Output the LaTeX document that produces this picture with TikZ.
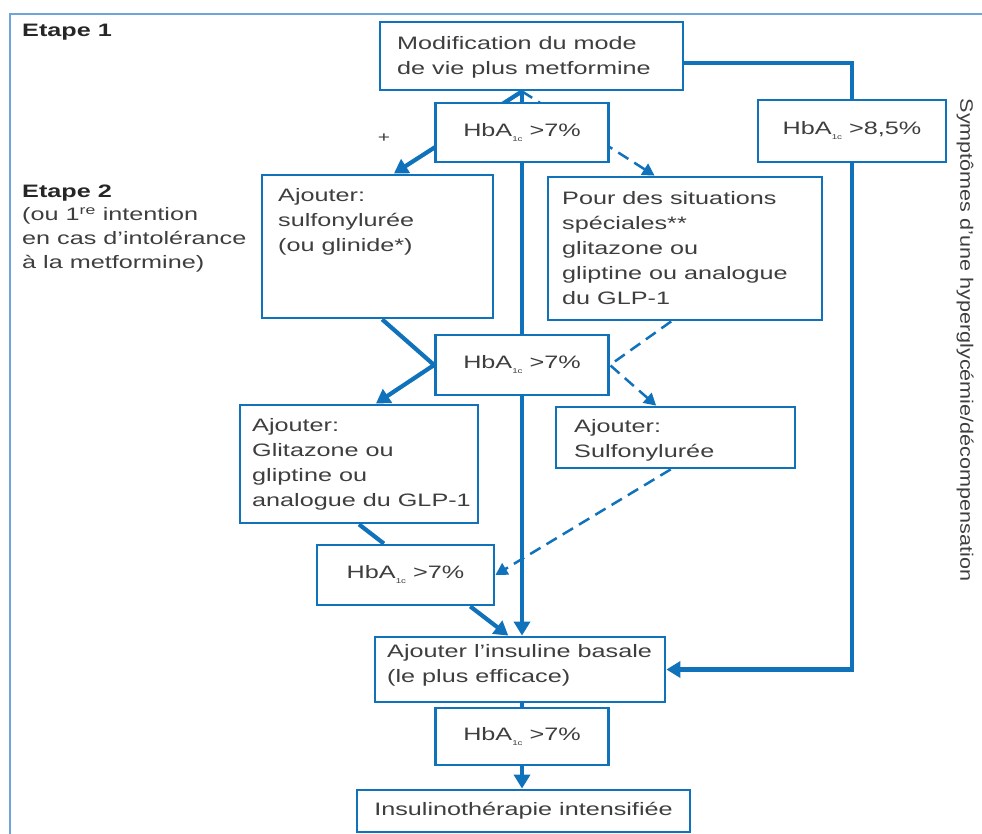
\documentclass[tikz,border=0pt]{standalone}
\usepackage{fontspec}
\setmainfont{Liberation Sans}[FakeStretch=1.4]
\newfontfamily\vfont{Liberation Sans}[FakeStretch=1.2]
\usetikzlibrary{arrows.meta,calc}
\definecolor{fblue}{RGB}{16,114,186}
\definecolor{frameblue}{RGB}{110,165,215}
\definecolor{tgray}{RGB}{62,62,62}
\newcommand{\hba}{HbA\raisebox{-5pt}{\fontsize{7}{7}\selectfont 1c}}
\pgfdeclarelayer{bg}\pgfsetlayers{bg,main}
\begin{document}
\begin{tikzpicture}[x=1pt,y=-1pt,
 box/.style={draw=fblue, line width=2.8pt, fill=white, inner sep=0pt},
 txt/.style={text=tgray, font=\fontsize{18}{25}\selectfont, align=left, inner sep=0pt, anchor=west},
 ctxt/.style={text=tgray, font=\fontsize{18}{25}\selectfont, inner sep=0pt},
 etape/.style={text=black!85, font=\fontsize{18}{24}\selectfont\bfseries, inner sep=0pt, anchor=west},
 thickline/.style={draw=fblue, line width=4.2pt},
 dashline/.style={draw=fblue, line width=2.5pt, dash pattern=on 12pt off 7pt},
 bigtip/.style={-{Triangle[length=14pt,width=16pt]}},
 smalltip/.style={-{Triangle[length=12pt,width=13pt]}},
]
\useasboundingbox (0,0) rectangle (982,834);
\draw[frameblue, line width=1.5pt] (10,834) -- (10,14) -- (982,14);

% boxes
\node[box, minimum width=303pt, minimum height=68pt] (mod) at (531.5,56) {};
\node[txt] (modt) at (397,57.5) {Modification du mode\\de vie plus metformine};

\node[box, minimum width=173pt, minimum height=59pt] (hb1) at (522,132.5) {};
\node[ctxt] (hb1t) at (hb1) {\hba\ >7\%};

\node[box, minimum width=188pt, minimum height=62pt] (hb85) at (852,131) {};
\node[ctxt] (hb85t) at (hb85) {\hba\ >8,5\%};

\node[box, minimum width=231pt, minimum height=143pt] (aj1) at (377.5,246.5) {};
\node[txt] (aj1t) at (278,222) {Ajouter:\\sulfonylurée\\(ou glinide*)};

\node[box, minimum width=274pt, minimum height=143pt] (pour) at (685,248.5) {};
\node[txt] (pourt) at (562,248.5) {Pour des situations\\spéciales**\\glitazone ou\\gliptine ou analogue\\du GLP-1};

\node[box, minimum width=173pt, minimum height=60pt] (hb2) at (522,365) {};
\node[ctxt] (hb2t) at (hb2) {\hba\ >7\%};

\node[box, minimum width=238pt, minimum height=118pt] (aj2) at (359,464) {};
\node[txt] (aj2t) at (252,464.5) {Ajouter:\\Glitazone ou\\gliptine ou\\analogue du GLP-1};

\node[box, minimum width=239pt, minimum height=61pt] (aj3) at (675.5,437.5) {};
\node[txt] (aj3t) at (574,440) {Ajouter:\\Sulfonylurée};

\node[box, minimum width=177pt, minimum height=60pt] (hb3) at (405.5,575) {};
\node[ctxt] (hb3t) at (hb3) {\hba\ >7\%};

\node[box, minimum width=290pt, minimum height=65pt] (ins) at (520,669.5) {};
\node[txt] (inst) at (387,665.5) {Ajouter l’insuline basale\\(le plus efficace)};

\node[box, minimum width=173pt, minimum height=57pt] (hb4) at (522,736.5) {};
\node[ctxt] (hb4t) at (hb4) {\hba\ >7\%};

\node[box, minimum width=333pt, minimum height=42pt] (final) at (523.5,811) {};
\node[ctxt] (finalt) at (final) {Insulinothérapie intensifiée};

% labels
\node[etape] (e1) at (22,32) {Etape 1};
\node[etape] (e2) at (22,193) {Etape 2};
\node[txt, font=\fontsize{18}{24}\selectfont] (e2t) at (22,240) {(ou 1\textsuperscript{re} intention\\en cas d’intolérance\\à la metformine)};
\node[ctxt, font=\fontsize{15}{15}\selectfont] (plus) at (384,138) {+};
\node[text=tgray, font=\vfont\fontsize{18}{20}\selectfont, rotate=-90, inner sep=0pt] (sym) at (965,340) {Symptômes d’une hyperglycémie/décompensation};

% connectors
\begin{pgfonlayer}{bg}
\coordinate (top) at (mod.south -| hb1.center);
\draw[thickline, bigtip] (top) -- (ins.north -| hb1.center);
\draw[thickline, bigtip] (top) -- ($(aj1.north west)!0.57!(aj1.north east)$);
\draw[dashline, smalltip] (top) -- ($(pour.north west)!0.39!(pour.north east)$);
\draw[thickline, bigtip] ($(aj1.south west)!0.52!(aj1.south east)$) -- (hb2.west) -- ($(aj2.north west)!0.57!(aj2.north east)$);
\draw[dashline, smalltip] ($(pour.south west)!0.45!(pour.south east)$) -- (hb2.east) -- ($(aj3.north west)!0.42!(aj3.north east)$);
\draw[thickline] ($(aj2.south west)!0.5!(aj2.south east)$) -- ($(hb3.north west)!0.38!(hb3.north east)$);
\draw[dashline, smalltip] ($(aj3.south west)!0.48!(aj3.south east)$) -- (hb3.east);
\draw[thickline, bigtip] ($(hb3.south west)!0.86!(hb3.south east)$) -- ($(ins.north west)!0.46!(ins.north east)$);
\draw[thickline] ($(mod.north east)!0.6!(mod.south east)$) -| (hb85.north);
\draw[thickline, bigtip] (hb85.south) |- (ins.east);
\draw[thickline] (ins.south -| hb4.center) -- (hb4.north);
\draw[thickline, bigtip] (hb4.south) -- (final.north -| hb4.center);
\end{pgfonlayer}
\end{tikzpicture}
\end{document}
